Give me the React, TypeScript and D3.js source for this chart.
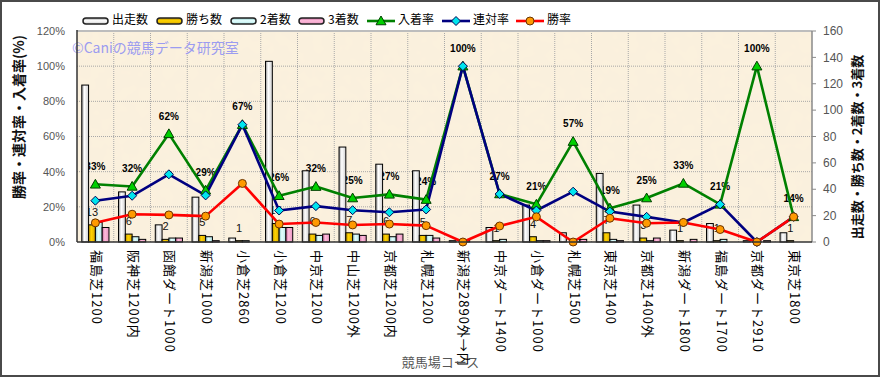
import React, { useEffect } from "react";
import * as d3 from "d3";

const categories = [
  "福島芝1200", "阪神芝1200内", "函館ダート1000", "新潟芝1000", "小倉芝2860",
  "小倉芝1200", "中京芝1200", "中山芝1200外", "京都芝1200内", "札幌芝1200",
  "新潟芝2890外→内", "中京ダート1400", "小倉ダート1000", "札幌芝1500", "東京芝1400",
  "京都芝1400外", "新潟ダート1800", "福島ダート1700", "京都ダート2910", "東京芝1800",
];
const starts = [119, 38, 13, 34, 3, 137, 54, 72, 59, 54, 1, 11, 28, 7, 52, 28, 9, 14, 1, 7];
const wins = [13, 6, 2, 5, 1, 14, 6, 7, 6, 5, 0, 1, 4, 0, 7, 3, 1, 1, 0, 1];
const seconds = [15, 4, 3, 4, 1, 11, 5, 6, 4, 5, 1, 2, 1, 2, 2, 1, 0, 2, 0, 0];
const thirds = [11, 2, 3, 1, 0, 11, 6, 5, 6, 3, 0, 0, 1, 2, 1, 3, 2, 0, 1, 0];
const placeRate = [32.8, 31.6, 61.5, 29.4, 66.7, 26.3, 31.5, 25.0, 27.1, 24.1, 100, 27.3, 21.4, 57.1, 19.2, 25.0, 33.3, 21.4, 100, 14.3];
const quinellaRate = [23.5, 26.3, 38.5, 26.5, 66.7, 17.9, 20.4, 18.1, 16.9, 18.5, 100, 27.3, 17.9, 28.6, 17.3, 14.3, 11.1, 21.4, 0, 14.3];
const winRate = [10.9, 15.8, 15.4, 14.7, 33.3, 10.2, 11.1, 9.7, 10.2, 9.3, 0, 9.1, 14.3, 0, 13.5, 10.7, 11.1, 7.1, 0, 14.3];
const leftTicks = [0, 20, 40, 60, 80, 100, 120];
const rightTicks = [0, 20, 40, 60, 80, 100, 120, 140, 160];
const barSeries = ["出走数", "勝ち数", "2着数", "3着数"];
const lineSeries = ["入着率", "連対率", "勝率"];

const W = 881, H = 378;
const X0 = 77, X1 = 812, YT = 31, YB = 242;
const JP = "'Noto Sans CJK JP', 'Noto Sans', sans-serif";
const LAT = "'Liberation Sans', Arial, sans-serif";

const barGrad = [
  ["#9a9a9a", "#ffffff", "#cfcfcf"],
  ["#b88c00", "#ffd400", "#dcaa00"],
  ["#86c4c4", "#e6ffff", "#b2e6e6"],
  ["#c8689a", "#ffbcdc", "#e896c0"],
];
const lineColors = ["#008000", "#000080", "#ff0000"];
const markerFill = ["#00d000", "#00e5ee", "#ff9a00"];
const markerStroke = ["#004000", "#000050", "#6a3300"];

function Marker({ kind, x, y }: { kind: number; x: number; y: number }) {
  if (kind === 0) {
    const s = 5;
    return <path d={`M${x},${y - s} L${x + s},${y + s * 0.75} L${x - s},${y + s * 0.75} Z`} fill={markerFill[0]} stroke={markerStroke[0]} strokeWidth={1} />;
  }
  if (kind === 1) {
    const s = 4.5;
    return <path d={`M${x},${y - s} L${x + s},${y} L${x},${y + s} L${x - s},${y} Z`} fill={markerFill[1]} stroke={markerStroke[1]} strokeWidth={1} />;
  }
  return <circle cx={x} cy={y} r={4} fill={markerFill[2]} stroke={markerStroke[2]} strokeWidth={1} />;
}

export default function App() {
  useEffect(() => {
    document.body.style.margin = "0";
  }, []);

  const xBand = d3.scaleBand<string>().domain(categories).range([X0, X1]).padding(0);
  const bw = xBand.bandwidth();
  const groupW = bw * 0.74;
  const inner = d3.scaleBand<number>().domain([0, 1, 2, 3]).range([0, groupW]).padding(0);
  const yL = d3.scaleLinear().domain([0, 120]).range([YB, YT]);
  const yR = d3.scaleLinear().domain([0, 160]).range([YB, YT]);
  const cx = (i: number) => (xBand(categories[i]) as number) + bw / 2;
  const barData = [starts, wins, seconds, thirds];
  const rateData = [placeRate, quinellaRate, winRate];
  const line = d3.line<number>().x((_, i) => cx(i)).y((d) => yL(d));

  const legendBars = [83, 157, 231, 299];
  const legendLines = [367, 442, 516];

  return (
    <svg width={W} height={H} style={{ display: "block" }} xmlns="http://www.w3.org/2000/svg">
      <defs>
        {barGrad.map((g, k) => (
          <linearGradient key={k} id={`bg${k}`} x1="0" y1="0" x2="1" y2="0">
            <stop offset="0" stopColor={g[0]} />
            <stop offset="0.4" stopColor={g[1]} />
            <stop offset="1" stopColor={g[2]} />
          </linearGradient>
        ))}
        {barGrad.map((g, k) => (
          <linearGradient key={`v${k}`} id={`lg${k}`} x1="0" y1="0" x2="0" y2="1">
            <stop offset="0" stopColor={g[0]} />
            <stop offset="0.45" stopColor={g[1]} />
            <stop offset="1" stopColor={g[2]} />
          </linearGradient>
        ))}
        <filter id="tex" x="0" y="0" width="1" height="1">
          <feTurbulence type="fractalNoise" baseFrequency="0.08" numOctaves={2} seed={3} result="n" />
          <feColorMatrix in="n" type="matrix" values="0 0 0 0 0.93  0 0 0 0 0.86  0 0 0 0 0.72  0 0 0 0.35 0" result="c" />
          <feComposite in="c" in2="SourceGraphic" operator="over" />
        </filter>
      </defs>
      <rect x={0} y={0} width={W} height={H} fill="#ffffff" />
      <rect x={1} y={1} width={W - 3} height={H - 3} fill="none" stroke="#4a4a4a" strokeWidth={2} />

      {/* plot background */}
      <rect x={X0} y={YT} width={X1 - X0} height={YB - YT} fill="#fbf1dd" filter="url(#tex)" />

      {/* grid */}
      {leftTicks.slice(1, -1).map((t) => (
        <line key={`h${t}`} x1={X0} x2={X1} y1={yL(t)} y2={yL(t)} stroke="#a8a8a8" strokeDasharray="1,1" />
      ))}
      {categories.slice(1).map((c) => (
        <line key={`v${c}`} x1={xBand(c) as number} x2={xBand(c) as number} y1={YT} y2={YB} stroke="#a8a8a8" strokeDasharray="1,1" />
      ))}

      {/* watermark */}
      <text x={72} y={49} fontFamily={JP} fontSize={14} fill="#9c9cf0" dominantBaseline="middle">©Caniの競馬データ研究室</text>

      {/* place rate labels */}
      {placeRate.map((v, i) => (
        <text key={`pl${i}`} x={cx(i)} y={yL(v) - 17} textAnchor="middle" dominantBaseline="middle" fontFamily={LAT} fontSize={10} fontWeight="bold" fill="#000">
          {`${Math.round(v)}%`}
        </text>
      ))}
      {/* win count labels */}
      {wins.map((v, i) =>
        v > 0 ? (
          <text key={`wl${i}`} x={(xBand(categories[i]) as number) + (bw - groupW) / 2 + (inner(1) as number) + inner.bandwidth() / 2} y={yR(v) - 12} textAnchor="middle" dominantBaseline="middle" fontFamily={LAT} fontSize={11} fill="#111">
            {v}
          </text>
        ) : null
      )}

      {/* bars */}
      {categories.map((c, i) => (
        <g key={`b${i}`}>
          {barData.map((arr, k) => {
            const x = (xBand(c) as number) + (bw - groupW) / 2 + (inner(k) as number);
            const y = yR(arr[i]);
            const h = YB - y;
            return h > 0 ? (
              <rect key={k} x={x} y={y} width={inner.bandwidth()} height={h} fill={`url(#bg${k})`} stroke="#000" strokeWidth={1} />
            ) : null;
          })}
        </g>
      ))}

      {/* lines */}
      {rateData.map((arr, k) => (
        <path key={`l${k}`} d={line(arr) as string} fill="none" stroke={lineColors[k]} strokeWidth={2.6} strokeLinejoin="round" />
      ))}
      {rateData.map((arr, k) => (
        <g key={`m${k}`}>
          {arr.map((v, i) => (
            <Marker key={i} kind={k} x={cx(i)} y={yL(v)} />
          ))}
        </g>
      ))}

      {/* axes */}
      <line x1={X0} x2={X1} y1={YT} y2={YT} stroke="#bdbdbd" strokeWidth={2} />
      <line x1={X1} x2={X1} y1={YT} y2={YB} stroke="#8a8a8a" strokeWidth={1.5} />
      <line x1={X0} x2={X0} y1={YT - 1} y2={YB} stroke="#333" strokeWidth={1.5} />
      <line x1={X0} x2={X1} y1={YB} y2={YB} stroke="#333" strokeWidth={1.5} />

      {leftTicks.map((t) => (
        <text key={`lt${t}`} x={65} y={yL(t) + 1} textAnchor="end" dominantBaseline="middle" fontFamily={LAT} fontSize={11} fill="#555">
          {`${t}%`}
        </text>
      ))}
      {rightTicks.map((t) => (
        <g key={`rt${t}`}>
          <line x1={X1} x2={X1 + 4} y1={yR(t)} y2={yR(t)} stroke="#8a8a8a" strokeWidth={1} />
          <text x={823} y={yR(t) + 1} textAnchor="start" dominantBaseline="middle" fontFamily={LAT} fontSize={12} fill="#555">
            {t}
          </text>
        </g>
      ))}

      {/* category labels */}
      {categories.map((c, i) => (
        <text key={`c${i}`} transform={`translate(${cx(i)},250) rotate(90)`} textAnchor="start" dominantBaseline="middle" fontFamily={JP} fontSize={13} letterSpacing={1} fill="#000">
          {c}
        </text>
      ))}

      {/* axis titles */}
      <text x={(X0 + X1) / 2 - 4} y={363} textAnchor="middle" dominantBaseline="middle" fontFamily={JP} fontSize={13} fill="#555">競馬場コース</text>
      <text transform="translate(20,117) rotate(-90)" textAnchor="middle" dominantBaseline="middle" fontFamily={JP} fontSize={14} fontWeight="bold" fill="#111">勝率・連対率・入着率(%)</text>
      <text transform="translate(858,147) rotate(-90)" textAnchor="middle" dominantBaseline="middle" fontFamily={JP} fontSize={13} fontWeight="bold" fill="#111">出走数・勝ち数・2着数・3着数</text>

      {/* legend */}
      {barSeries.map((s, k) => (
        <g key={`lgb${k}`}>
          <rect x={legendBars[k]} y={18} width={25} height={6} rx={3} fill={`url(#lg${k})`} stroke="#222" strokeWidth={1.5} />
          <text x={legendBars[k] + 29} y={21} dominantBaseline="middle" fontFamily={JP} fontSize={12} fill="#000">{s}</text>
        </g>
      ))}
      {lineSeries.map((s, k) => (
        <g key={`lgl${k}`}>
          <line x1={legendLines[k]} x2={legendLines[k] + 28} y1={21} y2={21} stroke={lineColors[k]} strokeWidth={2.6} />
          <Marker kind={k} x={legendLines[k] + 14} y={21} />
          <text x={legendLines[k] + 31} y={21} dominantBaseline="middle" fontFamily={JP} fontSize={12} fill="#000">{s}</text>
        </g>
      ))}
    </svg>
  );
}
